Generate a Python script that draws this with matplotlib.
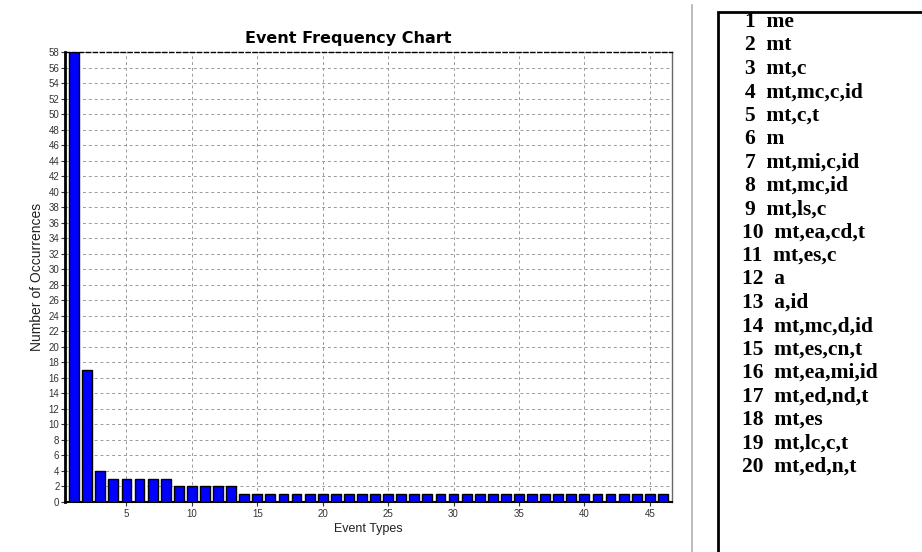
#!/usr/bin/env python3
"""
Event frequency bar chart with the event type legend box on the right
"""

import matplotlib
matplotlib.use('Agg')
import matplotlib.pyplot as plt
from matplotlib.patches import Rectangle
from matplotlib.lines import Line2D

# Event type ids and how often each one occurred
event_ids = list(range(1, 47))
occurrences = [58, 17, 4, 3, 3, 3, 3, 3, 2, 2, 2, 2, 2] + [1] * 33

# Legend entries shown in the box on the right
legend_labels = ['me', 'mt', 'mt,c', 'mt,mc,c,id', 'mt,c,t', 'm', 'mt,mi,c,id',
                 'mt,mc,id', 'mt,ls,c', 'mt,ea,cd,t', 'mt,es,c', 'a', 'a,id',
                 'mt,mc,d,id', 'mt,es,cn,t', 'mt,ea,mi,id', 'mt,ed,nd,t',
                 'mt,es', 'mt,lc,c,t', 'mt,ed,n,t']

W, H = 922, 552
fig = plt.figure(figsize=(W / 100, H / 100), dpi=100)
fig.patch.set_facecolor('white')

sans = 'Liberation Sans'

ax = fig.add_axes([65 / W, 1 - 502 / H, (672 - 65) / W, (502 - 52) / H])
ax.bar(event_ids, occurrences, width=0.75, color='#0000ff',
       edgecolor='black', linewidth=1.0, zorder=3)

ax.set_xlim(0.3, 46.7)
ax.set_ylim(0, 58)
ax.set_yticks(range(0, 59, 2))
ax.set_xticks(range(5, 46, 5))
ax.tick_params(axis='both', labelsize=7, colors='#333333', length=3, width=0.8,
               labelfontfamily=sans)
ax.tick_params(axis='x', pad=2)
ax.tick_params(axis='y', pad=1)
ax.grid(True, color='#999999', linestyle=(0, (3, 3)), linewidth=0.7, zorder=0)

ax.spines['left'].set_linewidth(2.0)
ax.spines['bottom'].set_linewidth(1.5)
ax.spines['top'].set_linestyle((0, (3, 2)))
ax.spines['top'].set_linewidth(1.0)
ax.spines['right'].set_color('#666666')
ax.spines['right'].set_linewidth(1.0)

# title is centred over the chart panel, not the axes
fig.text(348 / W, 1 - 38 / H, 'Event Frequency Chart', fontsize=11.5,
         fontweight='bold', family='DejaVu Sans', ha='center', va='center')
ax.set_xlabel('Event Types', fontsize=9, family=sans, labelpad=3, color='#222222')
ax.set_ylabel('Number of Occurrences', fontsize=10, family=sans, labelpad=3,
              color='#222222')

# Gray separator and legend box on the right
fig.add_artist(Line2D([692 / W, 692 / W], [0, 1 - 5 / H],
                      transform=fig.transFigure, color='#b0b0b0', linewidth=1.2))
fig.add_artist(Rectangle((718 / W, -0.05), 0.5, 1.05 - 12 / H,
                         transform=fig.transFigure, fill=False,
                         edgecolor='black', linewidth=2.0))

for i, label in enumerate(legend_labels):
    num = i + 1
    x = 745 if num < 10 else 742
    y = 27 + i * 23.4
    fig.text(x / W, 1 - y / H, f'{num}  {label}', fontsize=15.5,
             fontweight='bold', family='Liberation Serif', va='baseline', ha='left')

fig.savefig('out.png', dpi=100)
